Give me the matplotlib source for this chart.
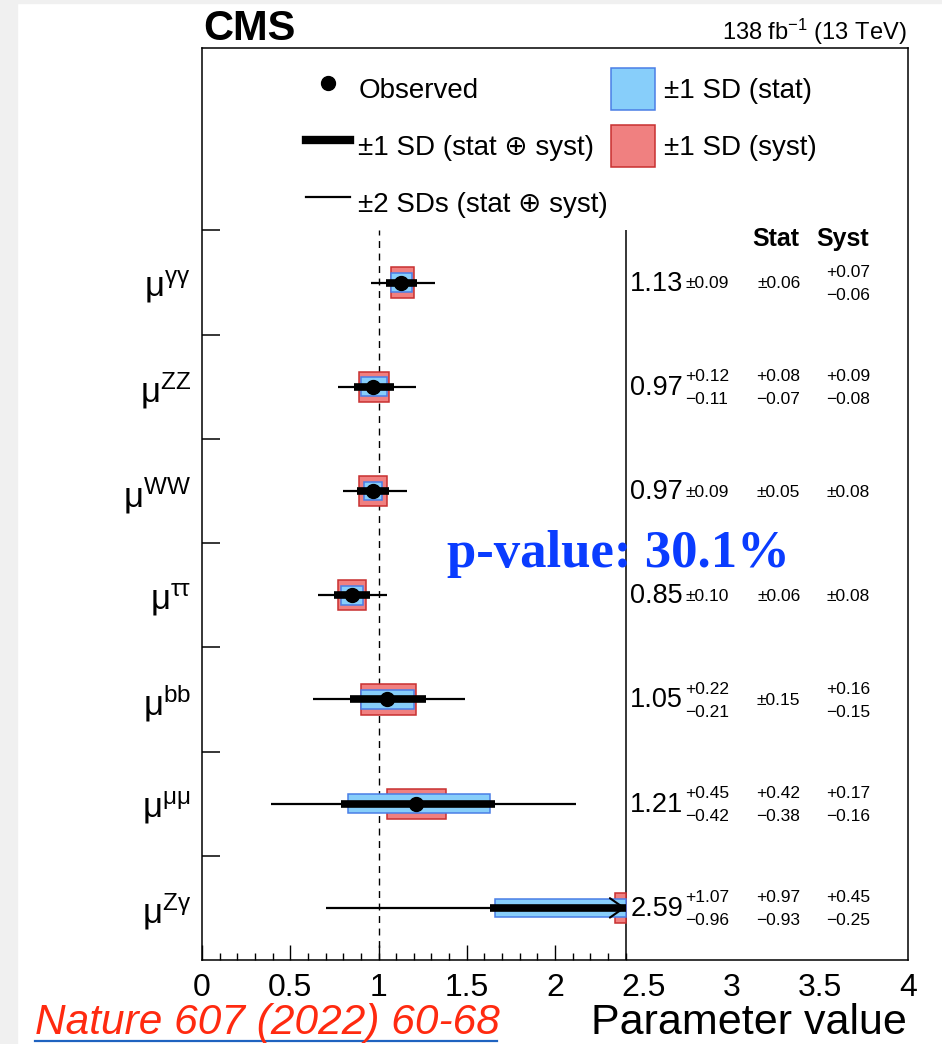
import numpy as np
import matplotlib
matplotlib.use('agg')
import matplotlib.pyplot as plt
from matplotlib.lines import Line2D
from matplotlib.patches import Patch, Rectangle

plt.rcParams['font.family'] = ['Liberation Sans', 'DejaVu Sans']
plt.rcParams['mathtext.fontset'] = 'custom'
plt.rcParams['mathtext.rm'] = 'Liberation Sans'
plt.rcParams['mathtext.default'] = 'regular'

# каналы распада, снизу вверх
channels = [r'$\mu^{Z\gamma}$', r'$\mu^{\mu\mu}$', r'$\mu^{bb}$', r'$\mu^{\tau\tau}$',
            r'$\mu^{WW}$', r'$\mu^{ZZ}$', r'$\mu^{\gamma\gamma}$']
mu = [2.59, 1.21, 1.05, 0.85, 0.97, 0.97, 1.13]
tot_up = [1.07, 0.45, 0.22, 0.10, 0.09, 0.12, 0.09]
tot_dn = [0.96, 0.42, 0.21, 0.10, 0.09, 0.11, 0.09]
stat_up = [0.97, 0.42, 0.15, 0.06, 0.05, 0.08, 0.06]
stat_dn = [0.93, 0.38, 0.15, 0.06, 0.05, 0.07, 0.06]
syst_up = [0.45, 0.17, 0.16, 0.08, 0.08, 0.09, 0.07]
syst_dn = [0.25, 0.16, 0.15, 0.08, 0.08, 0.08, 0.06]
# границы ±2 SD
lo2 = [0.70, 0.39, 0.63, 0.66, 0.80, 0.77, 0.96]
hi2 = [4.80, 2.12, 1.49, 1.05, 1.16, 1.21, 1.32]

xtick_vals = [0, 0.5, 1, 1.5, 2, 2.5, 3, 3.5, 4]
xtick_labels = ['0', '0.5', '1', '1.5', '2', '2.5', '3', '3.5', '4']

XCUT = 2.4  # правая граница области с точками
BLUE, BLUE_E = '#87cefa', '#4a7ee6'
RED, RED_E = '#f08080', '#c83030'

mu = np.array(mu)
rows = np.arange(len(mu))
lo1, hi1 = mu - np.array(tot_dn), mu + np.array(tot_up)
los, his = mu - np.array(stat_dn), mu + np.array(stat_up)
lox, hix = mu - np.array(syst_dn), mu + np.array(syst_up)
lo2, hi2 = np.array(lo2), np.array(hi2)

fig = plt.figure(figsize=(9.42, 10.44), dpi=100)
fig.add_artist(Rectangle((0, 0), 17 / 942, 1, transform=fig.transFigure, color='#f0f0f0', zorder=-5))
fig.add_artist(Rectangle((0, 1 - 3 / 1044), 1, 3 / 1044, transform=fig.transFigure, color='#f0f0f0', zorder=-5))
ax = fig.add_axes([202 / 942, 84 / 1044, 706 / 942, 912 / 1044])
ax.set_xlim(0, 4)
ax.set_ylim(-0.5, 8.25)
for s in ax.spines.values():
    s.set_linewidth(1.1)

# ящики syst и stat
ax.barh(rows, np.minimum(hix, XCUT) - lox, left=lox, height=0.29,
        color=RED, edgecolor=RED_E, lw=1.1, zorder=2)
ax.barh(rows, np.minimum(his, XCUT) - los, left=los, height=0.18,
        color=BLUE, edgecolor=BLUE_E, lw=1.1, zorder=3)
# ±2 SD и ±1 SD
ax.hlines(rows, lo2, np.minimum(hi2, XCUT), color='black', lw=1.6, zorder=4)
ax.hlines(rows, lo1, np.minimum(hi1, XCUT), color='black', lw=5.5, zorder=5)
inside = mu <= XCUT
ax.plot(mu[inside], rows[inside], 'o', color='black', ms=10, zorder=6)
for r in rows[hi1 > XCUT]:
    ax.annotate('', xy=(XCUT, r), xytext=(XCUT - 0.1, r), zorder=7,
                arrowprops=dict(arrowstyle='->,head_length=0.5,head_width=0.35', lw=1.5,
                                color='black', shrinkA=0, shrinkB=0, mutation_scale=20))

ax.vlines(1, -0.5, 6.5, color='black', lw=1.0, linestyles=(0, (5, 4)), zorder=1)
ax.vlines(XCUT, -0.5, 6.5, color='black', lw=1.1, zorder=1)

# оси
ax.set_yticks(rows, channels, fontsize=25)
ax.set_yticks(list(rows + 0.5), minor=True)
ax.tick_params(axis='y', which='major', length=0, pad=8)
ax.tick_params(axis='y', which='minor', direction='in', length=13, width=1.1)
ax.set_xticks(xtick_vals, xtick_labels, fontsize=23)
ax.set_xticks(np.arange(1, 25) / 10, minor=True)
ax.tick_params(axis='x', which='major', direction='in', length=11, width=1.0, pad=9)
ax.tick_params(axis='x', which='minor', direction='in', length=5, width=1.0)
for t in ax.xaxis.get_major_ticks():
    if t.get_loc() > XCUT:
        t.tick1line.set_visible(False)

# таблица значений
ax.text(3.25, 6.42, 'Stat', fontsize=18, fontweight='bold', ha='center', va='center')
ax.text(3.63, 6.42, 'Syst', fontsize=18, fontweight='bold', ha='center', va='center')


def unc_text(x, y, up, dn, ha):
    if up == dn:
        ax.text(x, y - 0.01, f'±{up:.2f}', fontsize=12.5, ha=ha, va='center')
    else:
        ax.text(x, y + 0.10, f'+{up:.2f}', fontsize=12.5, ha=ha, va='center')
        ax.text(x, y - 0.125, f'−{dn:.2f}', fontsize=12.5, ha=ha, va='center')


for r in rows:
    ax.text(2.725, r - 0.01, f'{mu[r]:.2f}', fontsize=19.5, ha='right', va='center')
    unc_text(2.74, r, tot_up[r], tot_dn[r], 'left')
    unc_text(3.39, r, stat_up[r], stat_dn[r], 'right')
    unc_text(3.785, r, syst_up[r], syst_dn[r], 'right')

ax.text(2.36, 3.40, 'p-value: 30.1%', fontsize=38, fontweight='bold', family='Liberation Serif',
        color='#0a3cff', ha='center', va='center', zorder=8)

# легенда
handles = [Line2D([], [], ls='none', marker='o', color='black', ms=10),
           Line2D([], [], color='black', lw=6),
           Line2D([], [], color='black', lw=1.6),
           Patch(facecolor=BLUE, edgecolor=BLUE_E, lw=1.1),
           Patch(facecolor=RED, edgecolor=RED_E, lw=1.1)]
labels = ['Observed', '±1 SD (stat ⊕ syst)', '±2 SDs (stat ⊕ syst)', '±1 SD (stat)', '±1 SD (syst)']
ax.legend(handles, labels, ncol=2, frameon=False, fontsize=20, loc='upper left',
          bbox_to_anchor=(104 / 706, (960 - 68) / 912), borderpad=0, borderaxespad=0,
          handlelength=1.58, handleheight=1.95, labelspacing=0.54, handletextpad=0.3,
          columnspacing=0.12)

# подписи
fig.text(203 / 942, 1 - 40 / 1044, 'CMS', fontsize=30, fontweight='bold', va='baseline')
fig.text(907 / 942, 1 - 40 / 1044, r'138 fb$^{-1}$ (13 TeV)', fontsize=17, ha='right', va='baseline')
fig.text(907 / 942, 1 - 1034 / 1044, 'Parameter value', fontsize=31, ha='right', va='baseline')
fig.text(35 / 942, 1 - 1034 / 1044, 'Nature 607 (2022) 60-68', fontsize=30.5, style='italic',
         color='#ff2a10', va='baseline')
fig.add_artist(Line2D([35 / 942, 497 / 942], [1 - 1041 / 1044] * 2, transform=fig.transFigure,
                      color='#1f63c0', lw=1.6))

plt.savefig('out.png', dpi=100)
